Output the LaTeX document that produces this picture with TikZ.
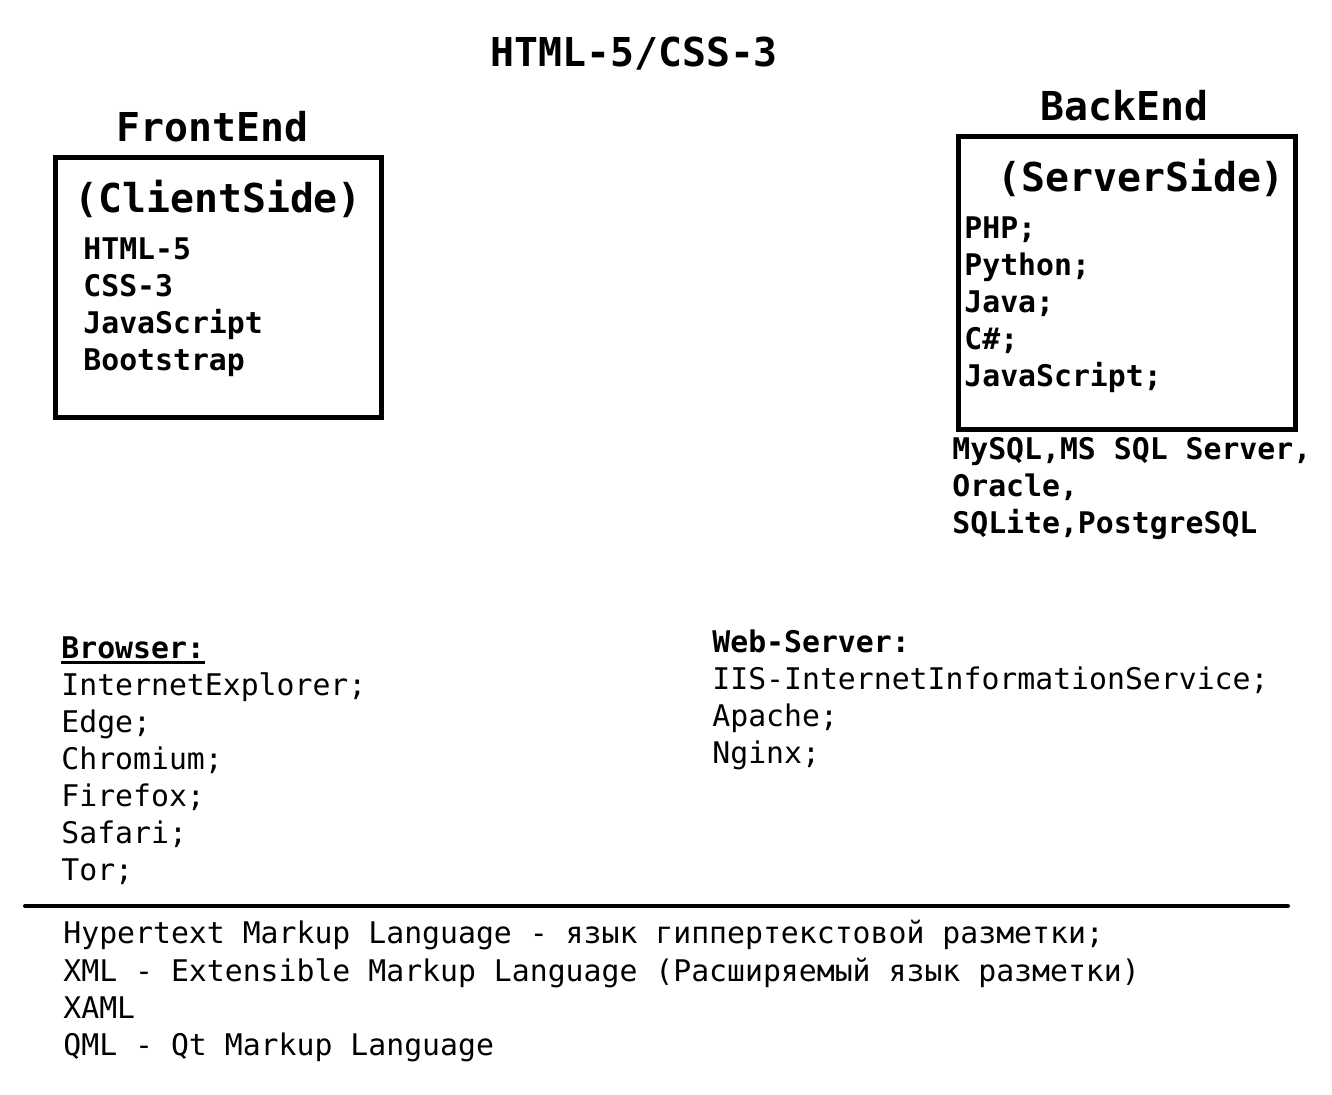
\documentclass[tikz,border=0pt]{standalone}
\usepackage{fontspec}
\setmonofont{DejaVu Sans Mono}
\usetikzlibrary{positioning}

\begin{document}
\begin{tikzpicture}[
        x=0.5pt, y=-0.5pt,
        every node/.style={inner sep=0pt, anchor=base west},
        heading/.style={font=\ttfamily\bfseries\fontsize{19.9}{24}\selectfont},
        entry/.style={font=\ttfamily\bfseries\fontsize{14.9}{18}\selectfont},
        plain/.style={font=\ttfamily\fontsize{14.9}{18}\selectfont},
        panel/.style={draw, line width=2.5pt},
        ]
        \useasboundingbox (0,0) rectangle (1332,1094);

        \node[heading] (title) at (490,66) {HTML-5/CSS-3};

        % client side
        \node[heading] (front) at (116,141) {FrontEnd};
        \draw[panel] (55,157) rectangle (381,417);
        \node[heading] (client) at (74,212) {(ClientSide)};
        \foreach \t [count=\i from 0] in {HTML-5, CSS-3, JavaScript, Bootstrap}
            \node[entry] (client-\i) at (83,259+37*\i) {\t};

        % server side
        \node[heading] (back) at (1040,120) {BackEnd};
        \draw[panel] (958,136.5) rectangle (1295,429);
        \node[heading] (server) at (997,191) {(ServerSide)};
        \foreach \t [count=\i from 0] in {PHP;, Python;, Java;, C\#;, JavaScript;}
            \node[entry] (server-\i) at (964,238+37*\i) {\t};
        \node[entry] (db-0) at (952,459) {MySQL,MS SQL Server,};
        \node[entry] (db-1) at (952,496) {Oracle,};
        \node[entry] (db-2) at (952,533) {SQLite,PostgreSQL};

        % browsers
        \node[entry] (browser) at (61,658) {Browser:};
        \draw[line width=1.5pt] ([yshift=-2.2pt]browser.base west) -- ([yshift=-2.2pt]browser.base east);
        \foreach \t [count=\i from 0] in {InternetExplorer;, Edge;, Chromium;, Firefox;, Safari;, Tor;}
            \node[plain] (browser-\i) at (61,695+37*\i) {\t};

        % web servers
        \node[entry] (web) at (712,652) {Web-Server:};
        \foreach \t [count=\i from 0] in {IIS-InternetInformationService;, Apache;, Nginx;}
            \node[plain] (web-\i) at (712,689+37*\i) {\t};

        % notes
        \draw[line width=2pt, line cap=round] (25,906) -- (1288,906);
        \node[plain] (note-0) at (63,943) {Hypertext Markup Language - язык гиппертекстовой разметки;};
        \node[plain] (note-1) at (63,981) {XML - Extensible Markup Language (Расширяемый язык разметки)};
        \node[plain] (note-2) at (63,1018) {XAML};
        \node[plain] (note-3) at (63,1055) {QML - Qt Markup Language};
    \end{tikzpicture}
\end{document}
